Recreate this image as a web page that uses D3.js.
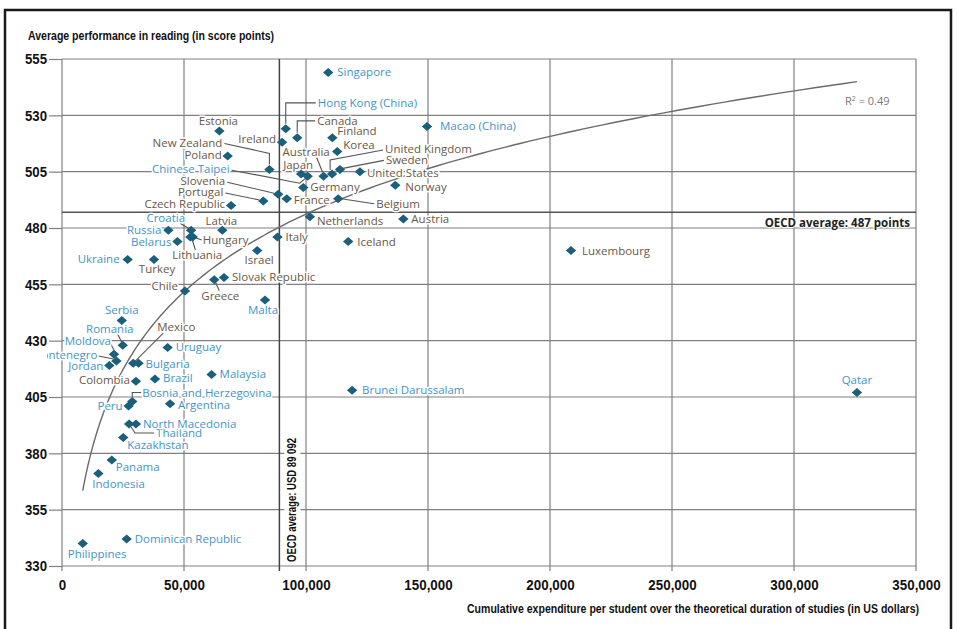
<!DOCTYPE html>
<html>
<head>
<meta charset="utf-8">
<script src="https://cdn.jsdelivr.net/npm/d3@7"></script>
<style>
  html, body { margin: 0; padding: 0; background: #fff; }
  svg { display: block; }
</style>
</head>
<body>
<svg id="chart" width="958" height="629"></svg>
<script>
// Education systems, cumulative spending per student (USD) and mean reading score
const countries = [
  "Singapore", "Hong Kong (China)", "Macao (China)", "Estonia", "Canada", "Finland", "Ireland", "Korea",
  "Poland", "Sweden", "New Zealand", "United States", "United Kingdom", "Japan", "Australia", "Chinese Taipei",
  "Norway", "Germany", "Slovenia", "Belgium", "France", "Portugal", "Czech Republic", "Netherlands",
  "Austria", "Latvia", "Russia", "Croatia", "Italy", "Hungary", "Lithuania", "Iceland",
  "Belarus", "Israel", "Luxembourg", "Ukraine", "Turkey", "Slovak Republic", "Greece", "Chile",
  "Malta", "Serbia", "Romania", "Uruguay", "Moldova", "Montenegro", "Mexico", "Bulgaria",
  "Jordan", "Malaysia", "Brazil", "Colombia", "Brunei Darussalam", "Qatar", "Bosnia and Herzegovina", "Argentina",
  "Peru", "Thailand", "North Macedonia", "Kazakhstan", "Panama", "Indonesia", "Dominican Republic", "Philippines"
];
const spending = [
  109100, 91700, 149600, 64500, 96400, 110800, 90200, 112800,
  67900, 113900, 85000, 122100, 110700, 98000, 107200, 100700,
  136600, 98900, 88600, 113200, 92100, 82500, 69300, 101600,
  139900, 65700, 43600, 52900, 88300, 53600, 52600, 117300,
  47300, 80000, 208600, 26900, 37700, 66400, 62400, 50400,
  83200, 24500, 24900, 43300, 21300, 22300, 29200, 31400,
  19400, 61300, 38100, 30300, 118900, 325800, 28800, 44300,
  27300, 27500, 30300, 25100, 20400, 14900, 26500, 8500
];
const reading = [
  549, 524, 525, 523, 520, 520, 518, 514,
  512, 506, 506, 505, 504, 504, 503, 503,
  499, 498, 495, 493, 493, 492, 490, 485,
  484, 479, 479, 479, 476, 476, 476, 474,
  474, 470, 470, 466, 466, 458, 457, 452,
  448, 439, 428, 427, 424, 421, 420, 420,
  419, 415, 413, 412, 408, 407, 403, 402,
  401, 393, 393, 387, 377, 371, 342, 340
];
// true = OECD member, false = partner economy
const oecdMember = [
  false, false, false, true, true, true, true, true,
  true, true, true, true, true, true, true, false,
  true, true, true, true, true, true, true, true,
  true, true, false, false, true, true, true, true,
  false, true, true, false, true, true, true, true,
  false, false, false, false, false, false, true, false,
  false, false, false, true, false, false, false, false,
  false, false, false, false, false, false, false, false
];

const xTicks = [0, 50000, 100000, 150000, 200000, 250000, 300000, 350000];
const yTicks = [330, 355, 380, 405, 430, 455, 480, 505, 530, 555];
const oecdAvgSpending = 89092;
const oecdAvgReading = 487;
const rSquared = 0.49;

const yTitle = "Average performance in reading (in score points)";
const xTitle = "Cumulative expenditure per student over the theoretical duration of studies (in US dollars)";

// Label placement (pixel offsets from each marker; leader polylines relative to the marker)
const placement = {
  "Singapore": { dx: 9, dy: -1 },
  "Hong Kong (China)": { dx: 32, dy: -26, leader: [[30, -26], [0, -26], [0, -5]] },
  "Macao (China)": { dx: 13, dy: -1 },
  "Estonia": { dx: -1, dy: -10, anchor: "middle" },
  "Canada": { dx: 20, dy: -17, leader: [[18, -17], [0, -17], [0, -5]] },
  "Finland": { dx: 5, dy: -7 },
  "Ireland": { dx: -6, dy: -3, anchor: "end" },
  "Korea": { dx: 6, dy: -6 },
  "Poland": { dx: -6, dy: -1, anchor: "end" },
  "Sweden": { dx: 46, dy: -9, leader: [[44, -9], [3, -1]] },
  "New Zealand": { dx: -47, dy: -26, anchor: "end", leader: [[-45, -26], [0, -16], [0, -5]] },
  "United States": { dx: 7, dy: 1 },
  "United Kingdom": { dx: 53, dy: -25, leader: [[51, -24], [-2, -14], [-2, -4]] },
  "Japan": { dx: -3, dy: -9, anchor: "middle" },
  "Australia": { dx: -41, dy: -24, leader: [[-7, -19], [-1, -4]] },
  "Chinese Taipei": { dx: -78, dy: -7, anchor: "end", leader: [[-76, -6], [-8, 7], [-2, 2]] },
  "Norway": { dx: 10, dy: 2 },
  "Germany": { dx: 7, dy: 0 },
  "Slovenia": { dx: -53, dy: -13, anchor: "end", leader: [[-51, -12], [-4, -1]] },
  "Belgium": { dx: 38, dy: 5, leader: [[36, 5], [3, 0]] },
  "France": { dx: 7, dy: 1 },
  "Portugal": { dx: -40, dy: -9, anchor: "end", leader: [[-38, -8], [-4, -1]] },
  "Czech Republic": { dx: -6, dy: -1, anchor: "end" },
  "Netherlands": { dx: 7, dy: 4 },
  "Austria": { dx: 8, dy: 0 },
  "Latvia": { dx: -1, dy: -9, anchor: "middle" },
  "Russia": { dx: -7, dy: 0, anchor: "end" },
  "Croatia": { dx: -6, dy: -12, anchor: "end", leader: [[-11, -7], [-1, -1]] },
  "Italy": { dx: 8, dy: 0 },
  "Hungary": { dx: 10, dy: 3, leader: [[9, 3], [3, 1]] },
  "Lithuania": { dx: -18, dy: 18, leader: [[5, 13], [2, 3]] },
  "Iceland": { dx: 9, dy: 0 },
  "Belarus": { dx: -6, dy: 0, anchor: "end" },
  "Israel": { dx: 2, dy: 9, anchor: "middle" },
  "Luxembourg": { dx: 11, dy: 0 },
  "Ukraine": { dx: -8, dy: -1, anchor: "end" },
  "Turkey": { dx: 3, dy: 9, anchor: "middle" },
  "Slovak Republic": { dx: 8, dy: -1 },
  "Greece": { dx: 6, dy: 16, anchor: "middle", leader: [[1, 2], [5, 11]] },
  "Chile": { dx: -7, dy: -5, anchor: "end" },
  "Malta": { dx: -2, dy: 10, anchor: "middle" },
  "Serbia": { dx: 0, dy: -10, anchor: "middle" },
  "Romania": { dx: -13, dy: -16, anchor: "middle", leader: [[-5, -11], [-1, -3]] },
  "Uruguay": { dx: 8, dy: 0 },
  "Moldova": { dx: -3, dy: -13, anchor: "end", leader: [[-3, -10], [0, -4]] },
  "Montenegro": { dx: -19, dy: -6, anchor: "end", leader: [[-18, -5], [-3, -2]] },
  "Mexico": { dx: 43, dy: -36, anchor: "middle", leader: [[30, -30], [2, -2]] },
  "Bulgaria": { dx: 7, dy: 1 },
  "Jordan": { dx: -6, dy: 1, anchor: "end" },
  "Malaysia": { dx: 8, dy: 0 },
  "Brazil": { dx: 8, dy: -1 },
  "Colombia": { dx: -6, dy: -1, anchor: "end" },
  "Brunei Darussalam": { dx: 10, dy: 0 },
  "Qatar": { dx: 0, dy: -13, anchor: "middle" },
  "Bosnia and Herzegovina": { dx: 10, dy: -9, leader: [[9, -9], [0, -9], [0, -4]] },
  "Argentina": { dx: 8, dy: 1 },
  "Peru": { dx: -6, dy: 0, anchor: "end" },
  "Thailand": { dx: 27, dy: 9, leader: [[2, 3], [6, 9], [25, 9]] },
  "North Macedonia": { dx: 7, dy: 0 },
  "Kazakhstan": { dx: 4, dy: 7 },
  "Panama": { dx: 4, dy: 7 },
  "Indonesia": { dx: -6, dy: 10 },
  "Dominican Republic": { dx: 8, dy: 0 },
  "Philippines": { dx: -15, dy: 11 }
};

const svg = d3.select("#chart");
const plot = { left: 62, right: 916, top: 59, bottom: 566 };

const x = d3.scaleLinear().domain([0, 350000]).range([plot.left, plot.right]);
const y = d3.scaleLinear().domain([330, 555]).range([plot.bottom, plot.top]);

const axisFont = "'Liberation Sans', Arial, sans-serif";
const labelFont = "'Open Sans', 'Noto Sans', sans-serif";
const gridColor = "#808080";
const oecdColor = "#6a5848";
const partnerColor = "#3f95cb";
const markerColor = "#1c5f7a";

// Squeeze bold sans text horizontally to a narrow style
function condense(sel, factor) {
  sel.each(function () {
    const w = this.getComputedTextLength();
    d3.select(this).attr("textLength", w * factor).attr("lengthAdjust", "spacingAndGlyphs");
  });
}
function fitWidth(sel, width) {
  sel.attr("textLength", width).attr("lengthAdjust", "spacingAndGlyphs");
}

// Outer frame
svg.append("path")
  .attr("d", "M5,640 V10 H951 V640")
  .attr("fill", "none").attr("stroke", "#1a1a1a").attr("stroke-width", 2.5);

// Grid
const grid = svg.append("g");
grid.selectAll("line.h").data(yTicks).join("line")
  .attr("x1", plot.left).attr("x2", plot.right)
  .attr("y1", d => y(d)).attr("y2", d => y(d))
  .attr("stroke", gridColor).attr("stroke-width", 1.2);
grid.selectAll("line.v").data(xTicks).join("line")
  .attr("x1", d => x(d)).attr("x2", d => x(d))
  .attr("y1", plot.top).attr("y2", plot.bottom + 5)
  .attr("stroke", gridColor).attr("stroke-width", 1.2);

// Y axis ticks and labels
const yAxis = d3.axisLeft(y).tickValues(yTicks).tickSize(13).tickPadding(2).tickFormat(d3.format("d"));
const gy = svg.append("g").attr("transform", `translate(${plot.left},0)`).call(yAxis);
gy.select(".domain").remove();
gy.selectAll(".tick line").attr("stroke", gridColor).attr("stroke-width", 1.2);
gy.selectAll(".tick text")
  .attr("font-family", axisFont).attr("font-weight", "bold").attr("font-size", 15)
  .attr("fill", "#111").call(condense, 0.88);

// X axis labels
const xAxis = d3.axisBottom(x).tickValues(xTicks).tickSize(0).tickPadding(13).tickFormat(d3.format(","));
const gx = svg.append("g").attr("transform", `translate(0,${plot.bottom})`).call(xAxis);
gx.select(".domain").remove();
gx.selectAll(".tick text")
  .attr("font-family", axisFont).attr("font-weight", "bold").attr("font-size", 15)
  .attr("fill", "#111").call(condense, 0.89);

// Axis titles
svg.append("text")
  .attr("x", 28).attr("y", 40)
  .attr("font-family", axisFont).attr("font-weight", "bold").attr("font-size", 12.5)
  .attr("fill", "#111").text(yTitle).call(fitWidth, 246);
svg.append("text")
  .attr("x", 919).attr("y", 613).attr("text-anchor", "end")
  .attr("font-family", axisFont).attr("font-weight", "bold").attr("font-size", 12)
  .attr("fill", "#111").text(xTitle).call(fitWidth, 452);

// OECD average reference lines
svg.append("line")
  .attr("x1", plot.left).attr("x2", plot.right)
  .attr("y1", y(oecdAvgReading)).attr("y2", y(oecdAvgReading))
  .attr("stroke", "#555").attr("stroke-width", 1.3);
svg.append("line")
  .attr("x1", x(oecdAvgSpending)).attr("x2", x(oecdAvgSpending))
  .attr("y1", plot.top).attr("y2", plot.bottom + 5)
  .attr("stroke", "#444").attr("stroke-width", 1.5);

// Logarithmic trend fitted to the data: reading = a + b * ln(spending)
const lx = spending.map(Math.log);
const mx = d3.mean(lx), my = d3.mean(reading);
const b = d3.sum(lx, (v, i) => (v - mx) * (reading[i] - my)) / d3.sum(lx, v => (v - mx) ** 2);
const a = my - b * mx;
const [xmin, xmax] = d3.extent(spending);
const trendX = d3.range(0, 201).map(i => Math.exp(Math.log(xmin) + (Math.log(xmax) - Math.log(xmin)) * i / 200));
svg.append("path")
  .datum(trendX)
  .attr("d", d3.line().x(d => x(d)).y(d => y(a + b * Math.log(d))))
  .attr("fill", "none").attr("stroke", "#6a6a6a").attr("stroke-width", 1.4);

// R-squared annotation
const r2 = svg.append("text")
  .attr("x", 845).attr("y", 105)
  .attr("font-family", labelFont).attr("font-size", 11).attr("fill", "#777");
r2.append("tspan").text("R");
r2.append("tspan").attr("dy", -4).attr("font-size", 7).text("2");
r2.append("tspan").attr("dy", 4).text(` = ${rSquared.toFixed(2)}`);

// Country data
const data = countries.map((c, i) => ({
  name: c, spend: spending[i], score: reading[i], oecd: oecdMember[i],
  p: placement[c] || { dx: 8, dy: 0 }
}));

// Leader lines
const leaders = svg.append("g");
data.filter(d => d.p.leader).forEach(d => {
  const cx = x(d.spend), cy = y(d.score);
  leaders.append("path")
    .attr("d", d3.line()(d.p.leader.map(([px, py]) => [cx + px, cy + py])))
    .attr("fill", "none").attr("stroke", "#555").attr("stroke-width", 1.1);
});

// Country labels with a white halo that masks lines behind them
svg.append("clipPath").attr("id", "labelClip")
  .append("rect").attr("x", 47).attr("y", 0).attr("width", 911).attr("height", 629);
svg.append("g").attr("clip-path", "url(#labelClip)")
  .selectAll("text").data(data).join("text")
  .attr("x", d => x(d.spend) + d.p.dx)
  .attr("y", d => y(d.score) + d.p.dy)
  .attr("dy", "0.35em")
  .attr("text-anchor", d => d.p.anchor || "start")
  .attr("font-family", labelFont).attr("font-size", 11.5)
  .attr("fill", d => d.oecd ? oecdColor : partnerColor)
  .attr("stroke", "#fff").attr("stroke-width", 3).attr("paint-order", "stroke")
  .attr("stroke-linejoin", "round")
  .text(d => d.name);

// Diamond markers
svg.append("g").selectAll("path").data(data).join("path")
  .attr("transform", d => `translate(${x(d.spend)},${y(d.score)})`)
  .attr("d", "M0,-4.5 L5.2,0 L0,4.5 L-5.2,0 Z")
  .attr("fill", markerColor);

// OECD average labels
svg.append("text")
  .attr("x", 910).attr("y", y(480) - 1.5).attr("text-anchor", "end")
  .attr("font-family", labelFont).attr("font-weight", "bold").attr("font-size", 11.5)
  .attr("fill", "#222")
  .attr("stroke", "#fff").attr("stroke-width", 2).attr("paint-order", "stroke")
  .text(`OECD average: ${oecdAvgReading} points`);

const vLab = svg.append("g")
  .attr("transform", `translate(${x(oecdAvgSpending) + 17},${plot.bottom - 4}) rotate(-90)`);
const vText = vLab.append("text")
  .attr("x", 0).attr("y", 0)
  .attr("font-family", axisFont).attr("font-weight", "bold").attr("font-size", 12)
  .attr("fill", "#111").text("OECD average: USD 89 092").call(fitWidth, 124);
const vb = vText.node().getBBox();
vLab.insert("rect", "text")
  .attr("x", vb.x - 1).attr("y", vb.y - 1)
  .attr("width", vb.width + 2).attr("height", vb.height + 2)
  .attr("fill", "#fff");
</script>
</body>
</html>
